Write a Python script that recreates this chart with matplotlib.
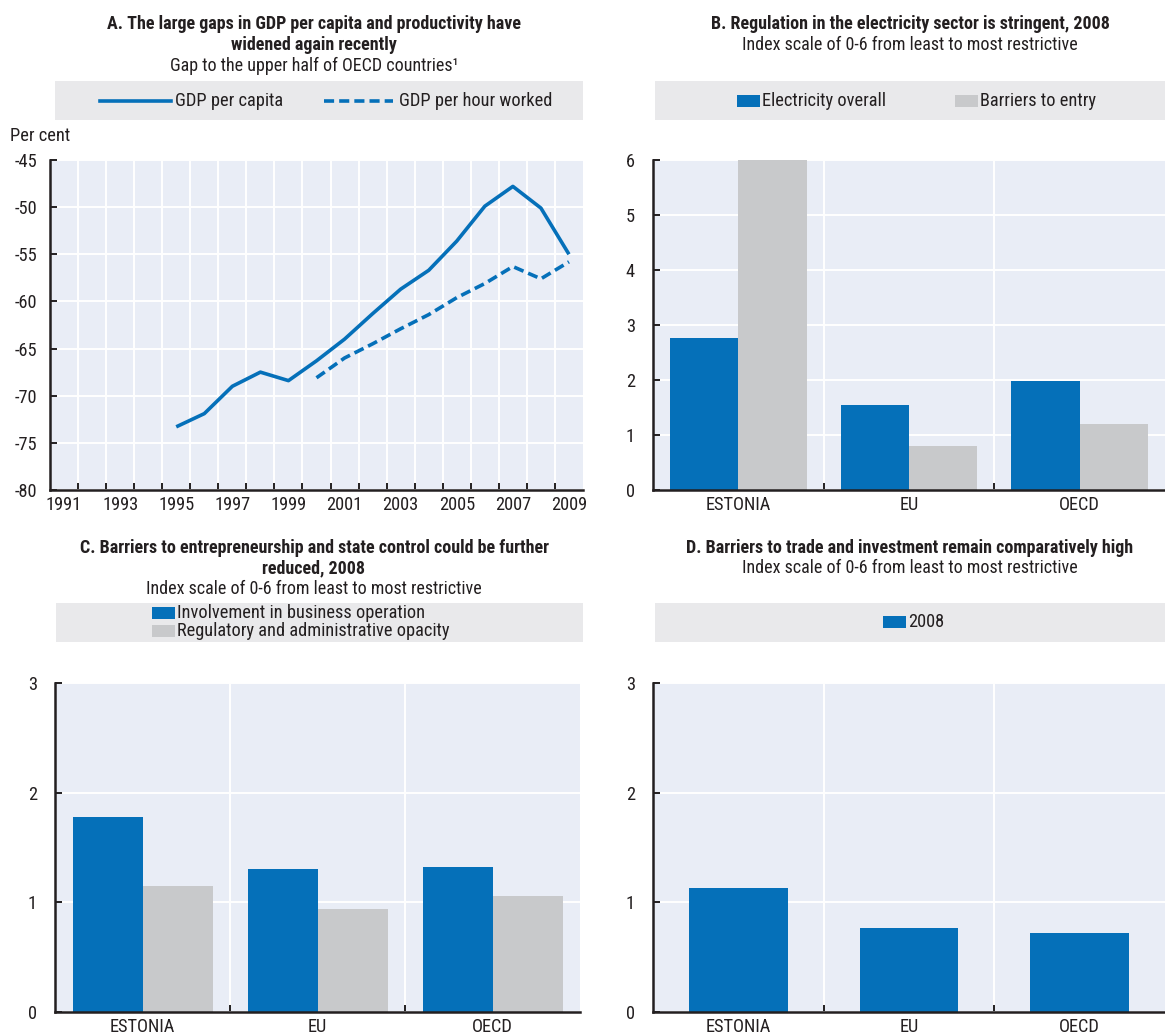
import matplotlib
matplotlib.use("Agg")
import matplotlib.pyplot as plt
import matplotlib.font_manager as fm
import numpy as np
from matplotlib.patches import Rectangle

# ---- data -------------------------------------------------------------
years = list(range(1991, 2010))
gdp_per_capita = [np.nan] * 4 + [-73.3, -71.9, -69.0, -67.5, -68.4, -66.3, -64.0,
                                 -61.3, -58.7, -56.7, -53.6, -49.9, -47.8, -50.1, -55.0]
gdp_per_hour = [np.nan] * 9 + [-68.1, -66.0, -64.5, -62.9, -61.4, -59.6, -58.1,
                               -56.3, -57.6, -55.8]

countries = ["ESTONIA", "EU", "OECD"]
electricity_overall = [2.77, 1.54, 1.99]
barriers_to_entry = [6.0, 0.80, 1.20]
involvement_business = [1.78, 1.30, 1.32]
regulatory_opacity = [1.15, 0.94, 1.06]
trade_investment_2008 = [1.13, 0.77, 0.72]

# ---- font: prefer a narrow sans serif ----------------------------------
ttf = fm.fontManager.ttflist
names = {f.name for f in ttf}
stretch = "normal"
scale = 1.0
if "Liberation Sans Narrow" in names:
    family, scale = "Liberation Sans Narrow", 0.95
elif "Arial Narrow" in names:
    family, scale = "Arial Narrow", 0.95
elif "Roboto Condensed" in names:
    family = "Roboto Condensed"
elif any(f.name == "DejaVu Sans" and "Condensed" in f.fname for f in ttf):
    family, stretch, scale = "DejaVu Sans", "condensed", 0.85
else:
    family, scale = "Liberation Sans", 0.8
plt.rcParams["font.family"] = [family, "DejaVu Sans"]
plt.rcParams["font.stretch"] = stretch
plt.rcParams["axes.unicode_minus"] = False

FS_TITLE = 13 * scale
FS_TEXT = 13.2 * scale

# ---- style ------------------------------------------------------------
W, H = 1165, 1035
BLUE = "#0570B9"
GREY = "#C8C9CB"
PLOT_BG = "#E9EDF6"
LEG_BG = "#E9E9EB"
DARK = "#231F20"
TXT = "#231F20"

fig = plt.figure(figsize=(W / 100, H / 100), dpi=100)


def rect(l, t, r, b):
    return [l / W, 1 - b / H, (r - l) / W, (b - t) / H]


def ftext(x, y, s, **kw):
    kw.setdefault("color", TXT)
    fig.text(x / W, 1 - y / H, s, **kw)


def style_axes(ax, ypad):
    ax.set_facecolor(PLOT_BG)
    for s in ("top", "right"):
        ax.spines[s].set_visible(False)
    for s in ("left", "bottom"):
        ax.spines[s].set_color(DARK)
        ax.spines[s].set_linewidth(1.8)
    ax.grid(axis="y", which="major", color="white", lw=1.4)
    ax.grid(axis="x", which="minor", color="white", lw=1.4)
    ax.set_axisbelow(True)
    ax.tick_params(axis="y", direction="in", length=5, width=1.4, color=DARK,
                   labelsize=FS_TEXT, pad=ypad, labelcolor=TXT)
    ax.tick_params(axis="x", which="major", length=0, labelsize=FS_TEXT, pad=4,
                   labelcolor=TXT)
    ax.tick_params(axis="x", which="minor", direction="in", length=5, width=1.4,
                   color=DARK)


def legend_axes(l, t, r, b):
    ax = fig.add_axes(rect(l, t, r, b))
    ax.set_xlim(l, r)
    ax.set_ylim(b, t)
    ax.set_facecolor(LEG_BG)
    ax.set_xticks([])
    ax.set_yticks([])
    for s in ax.spines.values():
        s.set_visible(False)
    return ax


def patch_item(ax, x, y, label, color, h=12):
    ax.add_patch(Rectangle((x, y - h / 2), 23, h, color=color, lw=0))
    ax.text(x + 25, y, label, va="center", ha="left", fontsize=FS_TEXT, color=TXT)


# ---- Panel A: line chart ----------------------------------------------
axA = fig.add_axes(rect(50, 160, 583, 490))
style_axes(axA, ypad=9)
xpos = np.arange(len(years))
DASH = (0, (2.8, 1.4))
axA.plot(xpos, gdp_per_capita, color=BLUE, lw=2.6, solid_capstyle="butt")
axA.plot(xpos, gdp_per_hour, color=BLUE, lw=2.6, ls=DASH)
axA.set_xlim(-0.5, len(years) - 0.5)
axA.set_ylim(-80, -45)
axA.set_yticks(np.arange(-80, -44, 5))
axA.set_xticks(xpos[::2])
axA.set_xticklabels([str(y) for y in years[::2]])
axA.set_xticks(np.arange(0.5, len(years) - 0.5, 1), minor=True)

ftext(314, 24, "A. The large gaps in GDP per capita and productivity have",
      ha="center", va="center", fontsize=FS_TITLE, fontweight="bold")
ftext(314, 45, "widened again recently", ha="center", va="center",
      fontsize=FS_TITLE, fontweight="bold")
ftext(314, 66, "Gap to the upper half of OECD countries\u00b9", ha="center",
      va="center", fontsize=FS_TITLE)
ftext(10, 136, "Per cent", ha="left", va="center", fontsize=FS_TEXT)

legA = legend_axes(55, 81, 583, 120)
legA.plot([100, 171], [100.5, 100.5], color=BLUE, lw=2.6)
legA.text(175, 100.5, "GDP per capita", va="center", ha="left",
          fontsize=FS_TEXT, color=TXT)
legA.plot([324, 393], [100.5, 100.5], color=BLUE, lw=2.6, ls=DASH)
legA.text(399, 100.5, "GDP per hour worked", va="center", ha="left",
          fontsize=FS_TEXT, color=TXT)


def bar_panel(ax, series, colors, width, ymax):
    style_axes(ax, ypad=13)
    x = np.arange(len(countries))
    n = len(series)
    for i, (vals, c) in enumerate(zip(series, colors)):
        off = (i - (n - 1) / 2) * width
        ax.bar(x + off, vals, width=width, color=c, lw=0)
    ax.set_xlim(-0.5, len(countries) - 0.5)
    ax.set_ylim(0, ymax)
    ax.set_yticks(np.arange(0, ymax + 1, 1))
    ax.set_xticks(x)
    ax.set_xticklabels(countries)
    ax.set_xticks(np.arange(0.5, len(countries) - 0.5, 1), minor=True)


# ---- Panel B -----------------------------------------------------------
axB = fig.add_axes(rect(653, 160, 1165, 490))
bar_panel(axB, [electricity_overall, barriers_to_entry], [BLUE, GREY], 0.4, 6)
ftext(910, 24, "B. Regulation in the electricity sector is stringent, 2008",
      ha="center", va="center", fontsize=FS_TITLE, fontweight="bold")
ftext(910, 45, "Index scale of 0-6 from least to most restrictive",
      ha="center", va="center", fontsize=FS_TITLE)
legB = legend_axes(655, 81, 1165, 120)
patch_item(legB, 737, 101, "Electricity overall", BLUE)
patch_item(legB, 955, 101, "Barriers to entry", GREY)

# ---- Panel C -----------------------------------------------------------
axC = fig.add_axes(rect(55, 683, 580, 1012))
bar_panel(axC, [involvement_business, regulatory_opacity], [BLUE, GREY], 0.4, 3)
ftext(314, 548, "C. Barriers to entrepreneurship and state control could be further",
      ha="center", va="center", fontsize=FS_TITLE, fontweight="bold")
ftext(314, 568, "reduced, 2008", ha="center", va="center", fontsize=FS_TITLE,
      fontweight="bold")
ftext(314, 589, "Index scale of 0-6 from least to most restrictive",
      ha="center", va="center", fontsize=FS_TITLE)
legC = legend_axes(56, 603, 583, 642)
patch_item(legC, 152, 613, "Involvement in business operation", BLUE)
patch_item(legC, 152, 631, "Regulatory and administrative opacity", GREY)

# ---- Panel D -----------------------------------------------------------
axD = fig.add_axes(rect(653, 683, 1165, 1012))
bar_panel(axD, [trade_investment_2008], [BLUE], 0.58, 3)
ftext(910, 548, "D. Barriers to trade and investment remain comparatively high",
      ha="center", va="center", fontsize=FS_TITLE, fontweight="bold")
ftext(910, 568, "Index scale of 0-6 from least to most restrictive",
      ha="center", va="center", fontsize=FS_TITLE)
legD = legend_axes(655, 603, 1165, 642)
patch_item(legD, 883, 622, "2008", BLUE)

fig.savefig("out.png", dpi=100)
